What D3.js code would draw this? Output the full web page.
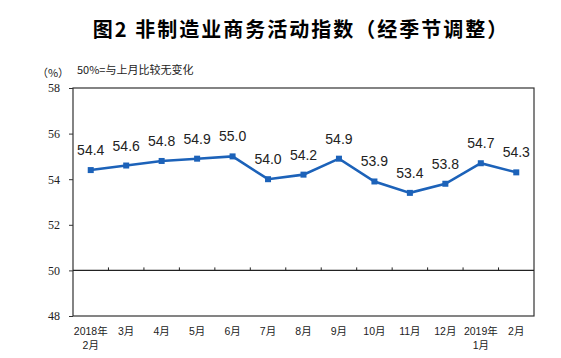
<!DOCTYPE html>
<html><head><meta charset="utf-8">
<script src="https://cdn.jsdelivr.net/npm/d3@7"></script>
<style>body{margin:0;background:#fff}svg{display:block}</style>
</head><body>
<script>
const categories = [["2018年","2月"],["3月"],["4月"],["5月"],["6月"],["7月"],["8月"],["9月"],["10月"],["11月"],["12月"],["2019年","1月"],["2月"]];
const values = [54.4,54.6,54.8,54.9,55.0,54.0,54.2,54.9,53.9,53.4,53.8,54.7,54.3];
const yTicks = [48,50,52,54,56,58];

const W=561,H=358;
const svg=d3.select("body").append("svg").attr("width",W).attr("height",H);
const L=73,R=534,T=88,B=316;
const x=d3.scaleBand().domain(d3.range(categories.length)).range([L,R]);
const y=d3.scaleLinear().domain([48,58]).range([B,T]);

svg.append("text").attr("x",301).attr("y",37).attr("text-anchor","middle")
 .attr("font-family","'Noto Sans CJK SC'").attr("font-weight","bold").attr("font-size",20)
 .attr("letter-spacing",2).attr("fill","#000")
 .text("图2 非制造业商务活动指数（经季节调整）");
svg.append("text").attr("x",53).attr("y",77).attr("text-anchor","middle")
 .attr("font-family","'Noto Sans CJK SC'").attr("font-size",11).attr("fill","#222").text("（%）");
svg.append("text").attr("x",77).attr("y",74)
 .attr("font-family","'Noto Sans CJK SC'").attr("font-size",11).attr("fill","#222").text("50%=与上月比较无变化");

// frame
svg.append("rect").attr("x",L).attr("y",T).attr("width",R-L).attr("height",B-T)
 .attr("fill","none").attr("stroke","#333").attr("stroke-width",1.2);

// y axis ticks
const yAxis=d3.axisLeft(y).tickValues(yTicks).tickSize(4).tickPadding(9);
const ya=svg.append("g").attr("transform",`translate(${L},0)`).call(yAxis);
ya.select(".domain").remove();
ya.selectAll("line").attr("stroke","#333");
ya.selectAll("text").attr("font-family","'Liberation Serif'").attr("font-size",12).attr("fill","#222");

// 50 line with ticks
svg.append("line").attr("x1",L).attr("x2",R).attr("y1",y(50)).attr("y2",y(50)).attr("stroke","#222").attr("stroke-width",1.2);
svg.append("g").selectAll("line").data(d3.range(1,categories.length)).join("line")
 .attr("x1",i=>x(i)).attr("x2",i=>x(i)).attr("y1",y(50)).attr("y2",y(50)-3).attr("stroke","#222");

// x labels (one text per line)
const cx=i=>x(i)+x.bandwidth()/2;
const xlab=[];
categories.forEach((d,i)=>d.forEach((s,j)=>xlab.push({s,i,j})));
svg.append("g").selectAll("text").data(xlab).join("text")
 .attr("text-anchor","middle").attr("font-family","'Liberation Sans','Noto Sans CJK SC'").attr("font-size",10.5).attr("fill","#222")
 .attr("x",d=>cx(d.i)).attr("y",d=>335+d.j*13.5).text(d=>d.s);

// line
svg.append("path").datum(values).attr("fill","none").attr("stroke","#1c62b9").attr("stroke-width",2.6)
 .attr("d",d3.line().x((d,i)=>cx(i)).y(d=>y(d)));
svg.append("g").selectAll("rect").data(values).join("rect")
 .attr("x",(d,i)=>cx(i)-3).attr("y",d=>y(d)-3).attr("width",6).attr("height",6).attr("fill","#1c62b9");
svg.append("g").selectAll("text").data(values).join("text")
 .attr("x",(d,i)=>cx(i)).attr("y",d=>y(d)-15).attr("text-anchor","middle")
 .attr("font-family","'Liberation Sans'").attr("font-size",14).attr("fill","#222").text(d=>d.toFixed(1));
</script>
</body></html>
